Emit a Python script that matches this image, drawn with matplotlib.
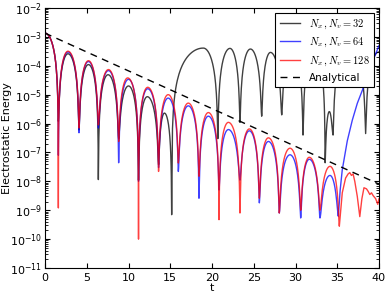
import numpy as np
import matplotlib
matplotlib.use('Agg')
import matplotlib.pyplot as plt
from matplotlib.ticker import LogLocator, NullFormatter

plt.rcParams['mathtext.fontset'] = 'cm'
plt.rcParams['font.family'] = ['DejaVu Sans']

# peaks / troughs of each run (alternating)
t_32 = [0, 1.6, 2.75, 4.07, 5.2, 6.39, 7.55, 8.82, 10.0, 11.2, 12.25, 13.6, 14.3, 15.17,
        18.96, 20.7, 22.15, 23.35, 24.6, 25.95, 27.0, 28.35, 29.6, 30.9, 32.2, 33.55,
        34.05, 34.5, 36.4, 38.4, 40.0]
E_32 = [1.35e-3, 1.2e-6, 2.6e-4, 6e-7, 1.1e-4, 1.15e-8, 4.9e-5, 3e-7, 2.0e-5, 1.1e-8, 8.5e-6,
        3.8e-8, 2.3e-6, 7e-10, 4.1e-4, 3e-7, 4e-4, 1.1e-6, 3.8e-4, 1.8e-6, 2.9e-4, 2e-6,
        3e-4, 4e-7, 3e-4, 4.4e-8, 2.6e-6, 4e-7, 4e-4, 4.5e-7, 3e-4]

t_64 = [0, 1.6, 2.75, 4.07, 5.2, 6.39, 7.6, 8.82, 10.0, 11.2, 12.3, 13.6, 14.75, 15.97,
        17.16, 18.44, 19.56, 20.84, 21.96, 23.35, 24.47, 25.67, 26.75, 28.06, 29.34,
        30.62, 31.65, 32.93, 34.13, 35.13]
E_64 = [1.35e-3, 8e-8, 3.0e-4, 4.8e-7, 1.4e-4, 7e-7, 6.8e-5, 4.4e-8, 3.4e-5, 1e-8, 1.6e-5,
        3e-8, 7.6e-6, 2.2e-8, 4.1e-6, 2.6e-9, 1.8e-6, 5e-9, 6.2e-7, 1.1e-8, 5.6e-7, 1.8e-9,
        2.4e-7, 8e-10, 8.3e-8, 5.4e-10, 5.8e-8, 5.4e-10, 1.6e-8, 6.2e-10]
# N=64 blows up after t~35
t_64_tail = [35.13, 35.35, 35.6, 36.2, 36.8, 37.4, 38.4, 39.5, 40.0]
E_64_tail = [6.2e-10, 5e-9, 2.5e-8, 2.5e-7, 1.3e-6, 5e-6, 2.8e-5, 2.2e-4, 5e-4]

t_128 = [0, 1.6, 2.75, 4.07, 5.2, 6.39, 7.6, 8.82, 9.9, 11.2, 12.3, 13.6, 14.75, 15.97,
         17.16, 18.44, 19.56, 20.84, 21.96, 23.35, 24.47, 25.67, 26.75, 28.06, 29.34,
         30.62, 31.65, 32.93, 34.13, 35.25]
E_128 = [1.35e-3, 1.2e-9, 3.2e-4, 7e-7, 1.5e-4, 9e-7, 7.4e-5, 2.4e-7, 3.8e-5, 1e-10, 1.8e-5,
         2.2e-8, 1e-5, 4.3e-8, 5.1e-6, 1.5e-8, 2.4e-6, 4.7e-10, 1.1e-6, 8e-10, 6.5e-7,
         2.6e-9, 3.2e-7, 8e-10, 1.4e-7, 1e-9, 6.8e-8, 1e-9, 3.3e-8, 2.8e-10]
# noisy end of the N=128 run
t_128_tail = [35.25, 35.6, 36.0, 36.3, 36.5, 36.7, 36.9, 37.1, 37.4, 37.7, 37.95, 38.2,
              38.5, 38.7, 38.9, 39.1, 39.3, 39.6, 39.85, 40.0]
E_128_tail = [2.8e-10, 4e-9, 1.3e-8, 1.8e-8, 2e-8, 1.6e-8, 1.8e-8, 1e-8, 3e-9, 6e-10,
              2.5e-9, 6e-9, 5.5e-9, 4.5e-9, 3.5e-9, 4e-9, 3.2e-9, 2.5e-9, 1.6e-9, 2.5e-9]

t_an = [0, 40]
E_an = [1.35e-3, 8e-9]


def lobes(t, E, n=40):
    # join successive extrema with |cos|^2 shaped arcs
    tt, ee = [t[0]], [E[0]]
    for i in range(len(t) - 1):
        u = np.linspace(0, 1, n)[1:]
        lo, hi = min(E[i], E[i+1]), max(E[i], E[i+1])
        if E[i] < E[i+1]:
            s = np.sin(np.pi * u / 2)**2
        else:
            s = np.cos(np.pi * u / 2)**2
        tt.extend(t[i] + (t[i+1] - t[i]) * u)
        ee.extend(lo + (hi - lo) * s)
    return np.array(tt), np.array(ee)


fig = plt.figure(figsize=(3.85, 2.95), dpi=100)
ax = fig.add_axes([45/385, 27/295, 334/385, 260/295])

x, y = lobes(t_32, E_32)
ax.semilogy(x, y, 'k', lw=1, alpha=0.75, label=r'$N_x\,,N_v=32$')
x, y = lobes(t_64, E_64)
x = np.concatenate([x, t_64_tail[1:]])
y = np.concatenate([y, E_64_tail[1:]])
ax.semilogy(x, y, 'b', lw=1, alpha=0.75, label=r'$N_x\,,N_v=64$')
x, y = lobes(t_128, E_128)
x = np.concatenate([x, t_128_tail[1:]])
y = np.concatenate([y, E_128_tail[1:]])
ax.semilogy(x, y, 'r', lw=1, alpha=0.75, label=r'$N_x\,,N_v=128$')
ax.semilogy(t_an, E_an, 'k', ls=(0, (5, 4)), lw=1, label='Analytical')

ax.set_xlim(0, 40)
ax.set_ylim(1e-11, 1e-2)
ax.set_xticks(np.arange(0, 41, 5))
ax.set_yticks([10.0**k for k in range(-11, -1)])
ax.yaxis.set_minor_locator(LogLocator(base=10, subs=np.arange(2, 10), numticks=100))
ax.yaxis.set_minor_formatter(NullFormatter())
ax.tick_params(which='both', direction='in', top=True, right=True, labelsize=8)
ax.tick_params(which='major', length=3.5)
ax.tick_params(which='minor', length=2)
ax.tick_params(axis='y', pad=2)
ax.set_xlabel('t', fontsize=8, labelpad=0)
ax.set_ylabel('Electrostatic Energy', fontsize=8)
ax.yaxis.set_label_coords(-0.1, 0.5)

leg = ax.legend(loc='upper right', fontsize=7.5, fancybox=False, framealpha=1,
                edgecolor='k', borderaxespad=0.5, handlelength=2)
leg.get_frame().set_linewidth(0.8)

fig.savefig('out.png', dpi=100)
